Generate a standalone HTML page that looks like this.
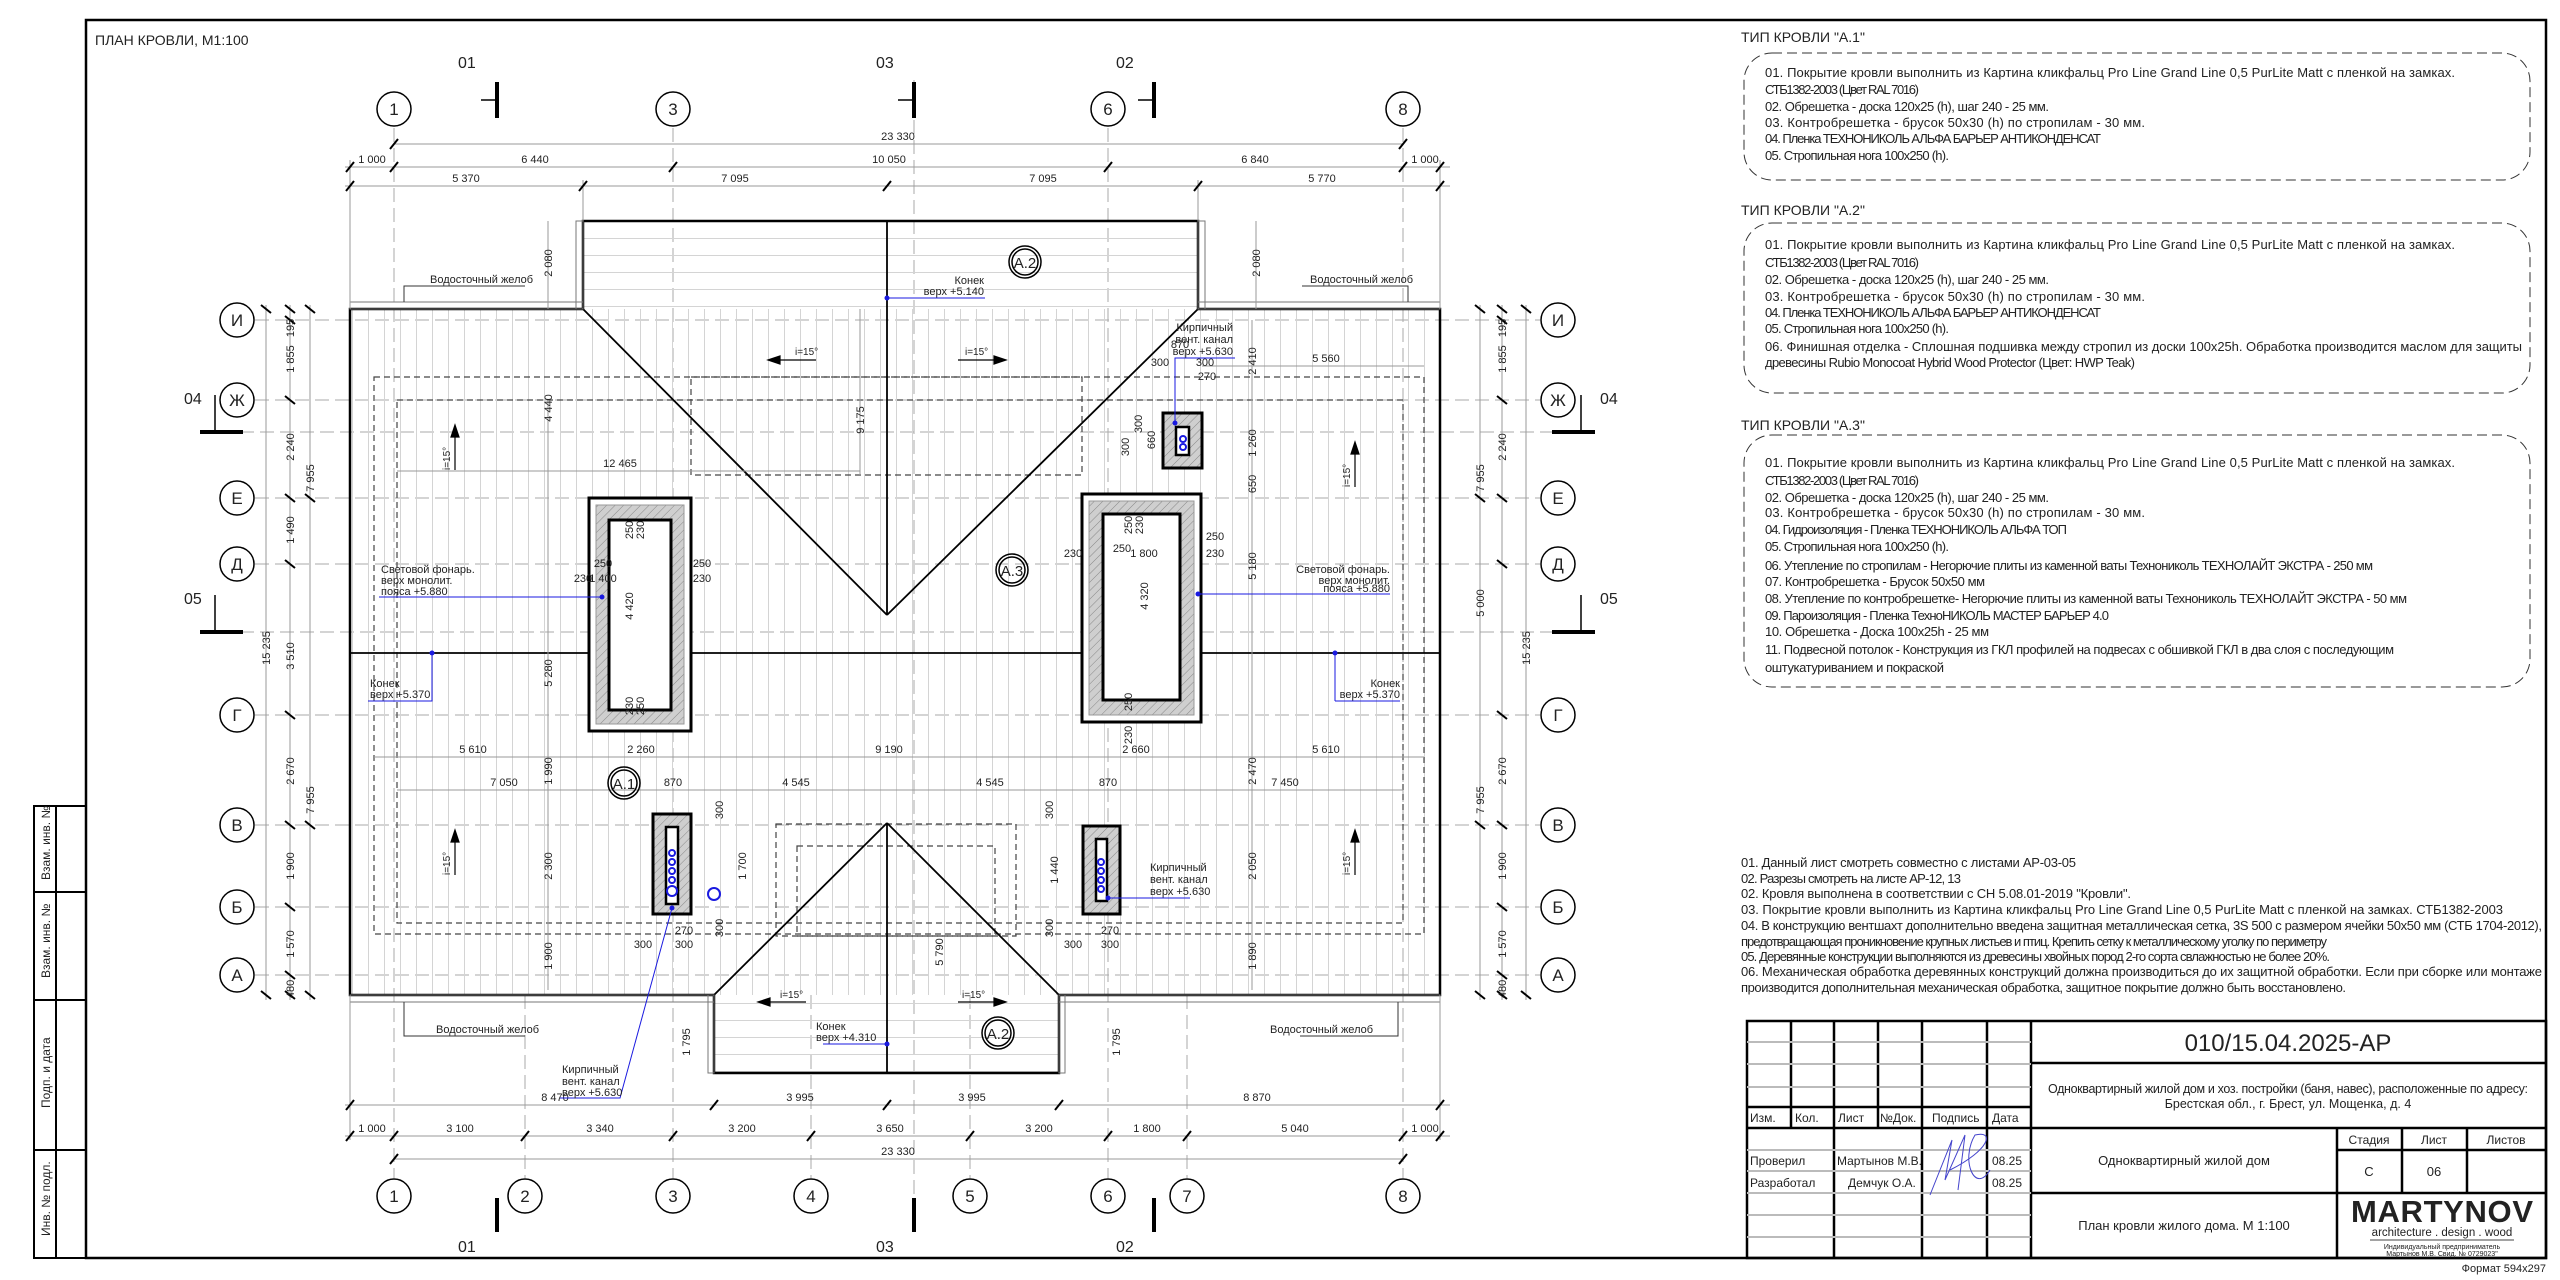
<!DOCTYPE html>
<html><head><meta charset="utf-8"><style>
html,body{margin:0;padding:0;background:#fff}
svg{display:block}
text{font-family:"Liberation Sans","DejaVu Sans",sans-serif;fill:#222}
.d{font-size:11px;fill:#333}
.t{font-size:13px}
.b{fill:#1a1ae0;font-size:11px}
</style></head><body>
<svg width="2560" height="1280" viewBox="0 0 2560 1280" xmlns="http://www.w3.org/2000/svg">
<defs>
<pattern id="vs" width="16" height="10" patternUnits="userSpaceOnUse"><line x1="0.5" y1="0" x2="0.5" y2="10" stroke="#d4d4d4" stroke-width="1"/></pattern>
<pattern id="hs" width="10" height="17" patternUnits="userSpaceOnUse"><line x1="0" y1="0.5" x2="10" y2="0.5" stroke="#d4d4d4" stroke-width="1"/></pattern>
<pattern id="hat" width="6" height="6" patternUnits="userSpaceOnUse" patternTransform="rotate(45)"><rect width="6" height="6" fill="#cfcfcf"/><line x1="0" y1="0" x2="0" y2="6" stroke="#888" stroke-width="1"/></pattern>
</defs>

<!-- frame -->
<rect x="86" y="20" width="2460" height="1238" fill="none" stroke="#000" stroke-width="2.5"/>
<g stroke="#000" stroke-width="2" fill="none">
<rect x="34" y="806" width="52" height="452"/>
<line x1="56" y1="806" x2="56" y2="1258"/>
<line x1="34" y1="892" x2="86" y2="892"/>
<line x1="34" y1="1000" x2="86" y2="1000"/>
<line x1="34" y1="1150" x2="86" y2="1150"/>
</g>
<g font-size="12">
<text transform="translate(50 880) rotate(-90)">Взам. инв. №</text>
<text transform="translate(50 978) rotate(-90)">Взам. инв. №</text>
<text transform="translate(50 1108) rotate(-90)">Подп. и дата</text>
<text transform="translate(50 1236) rotate(-90)">Инв. № подл.</text>
</g>
<text x="95" y="45" font-size="14">ПЛАН КРОВЛИ, М1:100</text>

<!-- axis lines -->
<g stroke="#aaa" stroke-width="1" stroke-dasharray="14 6">
<line x1="394" y1="128" x2="394" y2="1178"/><line x1="525" y1="995" x2="525" y2="1178"/>
<line x1="673" y1="128" x2="673" y2="1178"/><line x1="811" y1="995" x2="811" y2="1178"/>
<line x1="970" y1="995" x2="970" y2="1178"/><line x1="1108" y1="128" x2="1108" y2="1178"/>
<line x1="1187" y1="995" x2="1187" y2="1178"/><line x1="1403" y1="128" x2="1403" y2="1178"/>
<line x1="255" y1="320" x2="1540" y2="320"/><line x1="255" y1="400" x2="1540" y2="400"/>
<line x1="255" y1="498" x2="1540" y2="498"/><line x1="255" y1="564" x2="1540" y2="564"/>
<line x1="255" y1="715" x2="1540" y2="715"/><line x1="255" y1="825" x2="1540" y2="825"/>
<line x1="255" y1="907" x2="1540" y2="907"/><line x1="255" y1="975" x2="1540" y2="975"/>
<line x1="914" y1="80" x2="914" y2="1230"/>
<line x1="200" y1="432" x2="1600" y2="432"/><line x1="200" y1="632" x2="1600" y2="632"/>
</g>

<!-- roof fills -->
<rect x="350" y="309" width="1090" height="686" fill="url(#vs)"/>
<rect x="583" y="221" width="615" height="88" fill="url(#hs)"/>
<rect x="714" y="995" width="345" height="78" fill="url(#hs)"/>

<!-- dashed wall outlines -->
<g stroke="#444" stroke-width="1.2" fill="none" stroke-dasharray="6 4">
<rect x="374" y="377" width="1050" height="557"/>
<rect x="397" y="400" width="1006" height="523"/>
<rect x="691" y="377" width="391" height="98"/>
<rect x="775" y="824" width="136" height="0"/>
<rect x="776" y="824" width="240" height="112"/>
<rect x="797" y="846" width="198" height="90"/>
</g>

<!-- roof outline -->
<g stroke="#000" stroke-width="2.5" fill="none">
<path d="M350 309 H583 V221 H1198 V309 H1440 V995 H1059 V1073 H714 V995 H350 Z"/>
</g>
<g stroke="#000" stroke-width="1.8" fill="none">
<line x1="583" y1="309" x2="887" y2="615"/><line x1="1198" y1="309" x2="887" y2="615"/>
<line x1="887" y1="221" x2="887" y2="615"/>
<line x1="350" y1="653" x2="1440" y2="653"/>
<line x1="714" y1="995" x2="887" y2="823"/><line x1="1059" y1="995" x2="887" y2="823"/>
<line x1="887" y1="823" x2="887" y2="1073"/>
</g>
<!-- gutters -->
<g stroke="#777" stroke-width="1" fill="none">
<rect x="350" y="302" width="233" height="7"/><rect x="1198" y="302" width="242" height="7"/>
<rect x="350" y="995" width="364" height="7"/><rect x="1059" y="995" width="381" height="7"/>
<rect x="576" y="221" width="7" height="88"/><rect x="1198" y="221" width="7" height="88"/>
<rect x="708" y="995" width="6" height="78"/><rect x="1059" y="995" width="6" height="78"/>
</g>

<!-- skylights -->
<g>
<rect x="589" y="498" width="102" height="233" fill="#fff" stroke="#000" stroke-width="3"/>
<rect x="596" y="505" width="88" height="219" fill="url(#hat)" stroke="#999" stroke-width="1"/>
<rect x="609" y="520" width="62" height="190" fill="#fff" stroke="#000" stroke-width="3"/>
<rect x="1082" y="494" width="119" height="228" fill="#fff" stroke="#000" stroke-width="3"/>
<rect x="1089" y="501" width="105" height="214" fill="url(#hat)" stroke="#999" stroke-width="1"/>
<rect x="1103" y="514" width="77" height="186" fill="#fff" stroke="#000" stroke-width="3"/>
<!-- chimneys -->
<rect x="1163" y="413" width="39" height="55" fill="url(#hat)" stroke="#000" stroke-width="3"/>
<rect x="1176" y="427" width="13" height="28" fill="#fff" stroke="#000" stroke-width="2.5"/>
<rect x="653" y="814" width="38" height="100" fill="url(#hat)" stroke="#000" stroke-width="3"/>
<rect x="666" y="827" width="12" height="77" fill="#fff" stroke="#000" stroke-width="2.5"/>
<rect x="1083" y="826" width="37" height="88" fill="url(#hat)" stroke="#000" stroke-width="3"/>
<rect x="1096" y="839" width="11" height="62" fill="#fff" stroke="#000" stroke-width="2.5"/>
</g>
<g fill="none" stroke="#1a1ae0" stroke-width="2">
<circle cx="1183" cy="439" r="3"/><circle cx="1183" cy="447" r="3"/>
<circle cx="672" cy="853" r="3"/><circle cx="672" cy="862" r="3"/><circle cx="672" cy="871" r="3"/><circle cx="672" cy="880" r="3"/><circle cx="672" cy="891" r="5"/>
<circle cx="714" cy="894" r="6"/>
<circle cx="1101" cy="862" r="3"/><circle cx="1101" cy="871" r="3"/><circle cx="1101" cy="880" r="3"/><circle cx="1101" cy="889" r="3"/>
</g>

<!-- axis bubbles -->
<g fill="#fff" stroke="#000" stroke-width="1.5">
<circle cx="394" cy="109" r="17"/><circle cx="673" cy="109" r="17"/><circle cx="1108" cy="109" r="17"/><circle cx="1403" cy="109" r="17"/>
<circle cx="394" cy="1196" r="17"/><circle cx="525" cy="1196" r="17"/><circle cx="673" cy="1196" r="17"/><circle cx="811" cy="1196" r="17"/>
<circle cx="970" cy="1196" r="17"/><circle cx="1108" cy="1196" r="17"/><circle cx="1187" cy="1196" r="17"/><circle cx="1403" cy="1196" r="17"/>
<circle cx="237" cy="320" r="17"/><circle cx="237" cy="400" r="17"/><circle cx="237" cy="498" r="17"/><circle cx="237" cy="564" r="17"/>
<circle cx="237" cy="715" r="17"/><circle cx="237" cy="825" r="17"/><circle cx="237" cy="907" r="17"/><circle cx="237" cy="975" r="17"/>
<circle cx="1558" cy="320" r="17"/><circle cx="1558" cy="400" r="17"/><circle cx="1558" cy="498" r="17"/><circle cx="1558" cy="564" r="17"/>
<circle cx="1558" cy="715" r="17"/><circle cx="1558" cy="825" r="17"/><circle cx="1558" cy="907" r="17"/><circle cx="1558" cy="975" r="17"/>
</g>
<g font-size="17" text-anchor="middle">
<text x="394" y="115">1</text><text x="673" y="115">3</text><text x="1108" y="115">6</text><text x="1403" y="115">8</text>
<text x="394" y="1202">1</text><text x="525" y="1202">2</text><text x="673" y="1202">3</text><text x="811" y="1202">4</text>
<text x="970" y="1202">5</text><text x="1108" y="1202">6</text><text x="1187" y="1202">7</text><text x="1403" y="1202">8</text>
<text x="237" y="326">И</text><text x="237" y="406">Ж</text><text x="237" y="504">Е</text><text x="237" y="570">Д</text>
<text x="237" y="721">Г</text><text x="237" y="831">В</text><text x="237" y="913">Б</text><text x="237" y="981">А</text>
<text x="1558" y="326">И</text><text x="1558" y="406">Ж</text><text x="1558" y="504">Е</text><text x="1558" y="570">Д</text>
<text x="1558" y="721">Г</text><text x="1558" y="831">В</text><text x="1558" y="913">Б</text><text x="1558" y="981">А</text>
</g>

<!-- section marks -->
<g stroke="#000" stroke-width="4">
<line x1="497" y1="82" x2="497" y2="118"/><line x1="914" y1="82" x2="914" y2="118"/><line x1="1154" y1="82" x2="1154" y2="118"/>
<line x1="497" y1="1198" x2="497" y2="1232"/><line x1="914" y1="1198" x2="914" y2="1232"/><line x1="1154" y1="1198" x2="1154" y2="1232"/>
<line x1="200" y1="432" x2="243" y2="432"/><line x1="1552" y1="432" x2="1595" y2="432"/>
<line x1="200" y1="632" x2="243" y2="632"/><line x1="1552" y1="632" x2="1595" y2="632"/>
</g>
<g stroke="#000" stroke-width="1.5">
<line x1="481" y1="100" x2="497" y2="100"/><line x1="898" y1="100" x2="914" y2="100"/><line x1="1138" y1="100" x2="1154" y2="100"/>
<line x1="215" y1="395" x2="215" y2="430"/><line x1="1581" y1="395" x2="1581" y2="430"/>
<line x1="215" y1="595" x2="215" y2="630"/><line x1="1581" y1="595" x2="1581" y2="630"/>
</g>
<g font-size="16">
<text x="458" y="68">01</text><text x="876" y="68">03</text><text x="1116" y="68">02</text>
<text x="458" y="1252">01</text><text x="876" y="1252">03</text><text x="1116" y="1252">02</text>
<text x="184" y="404">04</text><text x="1600" y="404">04</text>
<text x="184" y="604">05</text><text x="1600" y="604">05</text>
</g>

<!-- dimension lines -->
<g stroke="#999" stroke-width="1">
<line x1="394" y1="144" x2="1403" y2="144"/><line x1="345" y1="167" x2="1450" y2="167"/><line x1="345" y1="186" x2="1450" y2="186"/>
<line x1="345" y1="1105" x2="1450" y2="1105"/><line x1="345" y1="1136" x2="1450" y2="1136"/><line x1="394" y1="1159" x2="1403" y2="1159"/>
<line x1="290" y1="305" x2="290" y2="1000"/><line x1="310" y1="305" x2="310" y2="1000"/><line x1="266" y1="305" x2="266" y2="1000"/>
<line x1="1502" y1="305" x2="1502" y2="1000"/><line x1="1480" y1="305" x2="1480" y2="1000"/><line x1="1526" y1="305" x2="1526" y2="1000"/>
<line x1="350" y1="160" x2="350" y2="309"/><line x1="1440" y1="160" x2="1440" y2="309"/>
<line x1="583" y1="180" x2="583" y2="221"/><line x1="1198" y1="180" x2="1198" y2="221"/>
<line x1="350" y1="995" x2="350" y2="1140"/><line x1="1440" y1="995" x2="1440" y2="1140"/>
<line x1="548" y1="221" x2="548" y2="309"/><line x1="1256" y1="221" x2="1256" y2="309"/>
<line x1="374" y1="757" x2="1424" y2="757"/><line x1="397" y1="790" x2="1403" y2="790"/>
<line x1="548" y1="400" x2="548" y2="990"/><line x1="1252" y1="320" x2="1252" y2="990"/>
<line x1="860" y1="309" x2="860" y2="475"/><line x1="397" y1="471" x2="860" y2="471"/>
<line x1="1202" y1="366" x2="1424" y2="366"/>
</g>
<g stroke="#000" stroke-width="2">
<path d="M390 149l8-10M1399 149l8-10M346 172l8-10M390 172l8-10M669 172l8-10M1104 172l8-10M1399 172l8-10M1436 172l8-10M346 191l8-10M579 191l8-10M883 191l8-10M1194 191l8-10M1436 191l8-10"/>
<path d="M346 1110l8-10M710 1110l8-10M883 1110l8-10M1055 1110l8-10M1436 1110l8-10M346 1141l8-10M390 1141l8-10M521 1141l8-10M669 1141l8-10M807 1141l8-10M966 1141l8-10M1104 1141l8-10M1183 1141l8-10M1399 1141l8-10M1436 1141l8-10M390 1164l8-10M1399 1164l8-10"/>
<path d="M285 305l10 8M285 316l10 8M285 396l10 8M285 494l10 8M285 560l10 8M285 711l10 8M285 821l10 8M285 903l10 8M285 971l10 8M285 991l10 8M305 305l10 8M305 494l10 8M305 821l10 8M305 991l10 8M261 305l10 8M261 991l10 8"/>
<path d="M1497 305l10 8M1497 316l10 8M1497 396l10 8M1497 494l10 8M1497 560l10 8M1497 711l10 8M1497 821l10 8M1497 903l10 8M1497 971l10 8M1497 991l10 8M1475 305l10 8M1475 494l10 8M1475 821l10 8M1475 991l10 8M1521 305l10 8M1521 991l10 8"/>
</g>
<g class="d" text-anchor="middle">
<text x="898" y="140">23 330</text>
<text x="372" y="163">1 000</text><text x="535" y="163">6 440</text><text x="889" y="163">10 050</text><text x="1255" y="163">6 840</text><text x="1425" y="163">1 000</text>
<text x="466" y="182">5 370</text><text x="735" y="182">7 095</text><text x="1043" y="182">7 095</text><text x="1322" y="182">5 770</text>
<text x="555" y="1101">8 470</text><text x="800" y="1101">3 995</text><text x="972" y="1101">3 995</text><text x="1257" y="1101">8 870</text>
<text x="372" y="1132">1 000</text><text x="460" y="1132">3 100</text><text x="600" y="1132">3 340</text><text x="742" y="1132">3 200</text><text x="890" y="1132">3 650</text><text x="1039" y="1132">3 200</text><text x="1147" y="1132">1 800</text><text x="1295" y="1132">5 040</text><text x="1425" y="1132">1 000</text>
<text x="898" y="1155">23 330</text>
<text x="620" y="467">12 465</text><text x="1326" y="362">5 560</text>
<text x="473" y="753">5 610</text><text x="641" y="753">2 260</text><text x="889" y="753">9 190</text><text x="1136" y="753">2 660</text><text x="1326" y="753">5 610</text>
<text x="504" y="786">7 050</text><text x="673" y="786">870</text><text x="796" y="786">4 545</text><text x="990" y="786">4 545</text><text x="1108" y="786">870</text><text x="1285" y="786">7 450</text>
<text x="1180" y="348">870</text><text x="1160" y="366">300</text><text x="1205" y="366">300</text><text x="1207" y="380">270</text>
<text x="603" y="567">250</text><text x="603" y="582">1 400</text><text x="583" y="582">230</text><text x="702" y="567">250</text><text x="702" y="582">230</text>
<text x="1122" y="552">250</text><text x="1144" y="557">1 800</text><text x="1073" y="557">230</text><text x="1215" y="540">250</text><text x="1215" y="557">230</text>
<text x="643" y="948">300</text><text x="684" y="948">300</text><text x="684" y="934">270</text>
<text x="1073" y="948">300</text><text x="1110" y="948">300</text><text x="1110" y="934">270</text>
</g>
<g class="d" text-anchor="middle">
<text transform="translate(294 328) rotate(-90)">195</text><text transform="translate(294 359) rotate(-90)">1 855</text>
<text transform="translate(294 447) rotate(-90)">2 240</text><text transform="translate(294 530) rotate(-90)">1 490</text>
<text transform="translate(294 656) rotate(-90)">3 510</text><text transform="translate(294 771) rotate(-90)">2 670</text>
<text transform="translate(294 866) rotate(-90)">1 900</text><text transform="translate(294 944) rotate(-90)">1 570</text>
<text transform="translate(294 989) rotate(-90)">480</text>
<text transform="translate(314 478) rotate(-90)">7 955</text><text transform="translate(314 800) rotate(-90)">7 955</text>
<text transform="translate(270 648) rotate(-90)">15 235</text>
<text transform="translate(1506 328) rotate(-90)">195</text><text transform="translate(1506 359) rotate(-90)">1 855</text>
<text transform="translate(1506 447) rotate(-90)">2 240</text><text transform="translate(1484 603) rotate(-90)">5 000</text>
<text transform="translate(1506 771) rotate(-90)">2 670</text>
<text transform="translate(1506 866) rotate(-90)">1 900</text><text transform="translate(1506 944) rotate(-90)">1 570</text>
<text transform="translate(1506 989) rotate(-90)">480</text>
<text transform="translate(1484 478) rotate(-90)">7 955</text><text transform="translate(1484 800) rotate(-90)">7 955</text>
<text transform="translate(1530 648) rotate(-90)">15 235</text>
<text transform="translate(552 263) rotate(-90)">2 080</text><text transform="translate(1260 263) rotate(-90)">2 080</text>
<text transform="translate(552 408) rotate(-90)">4 440</text><text transform="translate(864 420) rotate(-90)">9 175</text>
<text transform="translate(1256 361) rotate(-90)">2 410</text><text transform="translate(1256 443) rotate(-90)">1 260</text>
<text transform="translate(1256 484) rotate(-90)">650</text><text transform="translate(1256 566) rotate(-90)">5 180</text>
<text transform="translate(552 673) rotate(-90)">5 280</text><text transform="translate(552 771) rotate(-90)">1 990</text>
<text transform="translate(552 866) rotate(-90)">2 300</text><text transform="translate(552 956) rotate(-90)">1 900</text>
<text transform="translate(1256 771) rotate(-90)">2 470</text><text transform="translate(1256 866) rotate(-90)">2 050</text>
<text transform="translate(1256 956) rotate(-90)">1 890</text>
<text transform="translate(746 866) rotate(-90)">1 700</text><text transform="translate(1058 870) rotate(-90)">1 440</text>
<text transform="translate(943 952) rotate(-90)">5 790</text>
<text transform="translate(690 1042) rotate(-90)">1 795</text><text transform="translate(1120 1042) rotate(-90)">1 795</text>
<text transform="translate(633 606) rotate(-90)">4 420</text><text transform="translate(1148 596) rotate(-90)">4 320</text>
<text transform="translate(633 530) rotate(-90)">250</text><text transform="translate(644 530) rotate(-90)">230</text>
<text transform="translate(633 706) rotate(-90)">230</text><text transform="translate(644 706) rotate(-90)">250</text>
<text transform="translate(1132 525) rotate(-90)">250</text><text transform="translate(1143 525) rotate(-90)">230</text>
<text transform="translate(1132 702) rotate(-90)">250</text><text transform="translate(1132 735) rotate(-90)">230</text>
<text transform="translate(1142 424) rotate(-90)">300</text><text transform="translate(1155 440) rotate(-90)">660</text><text transform="translate(1129 447) rotate(-90)">300</text>
<text transform="translate(723 810) rotate(-90)">300</text><text transform="translate(723 928) rotate(-90)">300</text>
<text transform="translate(1053 810) rotate(-90)">300</text><text transform="translate(1053 928) rotate(-90)">300</text>
</g>

<!-- labels: gutters -->
<g font-size="11">
<text x="430" y="283">Водосточный желоб</text><text x="1310" y="283">Водосточный желоб</text>
<text x="436" y="1033">Водосточный желоб</text><text x="1270" y="1033">Водосточный желоб</text>
</g>
<g stroke="#333" stroke-width="1" fill="none">
<path d="M404 302 V286 H525"/><path d="M1408 302 V286 H1402 M1302 286 H1403"/>
<path d="M404 1002 V1036 H525"/><path d="M1300 1036 H1398 V1002"/>
</g>

<!-- A circles -->
<g fill="none" stroke="#000" stroke-width="1.5">
<circle cx="1025" cy="262" r="16"/><circle cx="1025" cy="262" r="13"/>
<circle cx="1012" cy="570" r="16"/><circle cx="1012" cy="570" r="13"/>
<circle cx="624" cy="783" r="16"/><circle cx="624" cy="783" r="13"/>
<circle cx="998" cy="1033" r="16"/><circle cx="998" cy="1033" r="13"/>
</g>
<g font-size="15" text-anchor="middle">
<text x="1025" y="268">А.2</text><text x="1012" y="576">А.3</text><text x="624" y="789">А.1</text><text x="998" y="1039">А.2</text>
</g>

<!-- slope arrows -->
<g stroke="#000" stroke-width="1.2" fill="#000">
<line x1="778" y1="360" x2="816" y2="360"/><path d="M768 360l12-4v8z"/>
<line x1="958" y1="360" x2="996" y2="360"/><path d="M1006 360l-12-4v8z"/>
<line x1="455" y1="435" x2="455" y2="470"/><path d="M455 425l-4 12h8z"/>
<line x1="1355" y1="452" x2="1355" y2="487"/><path d="M1355 442l-4 12h8z"/>
<line x1="455" y1="840" x2="455" y2="875"/><path d="M455 830l-4 12h8z"/>
<line x1="1355" y1="840" x2="1355" y2="875"/><path d="M1355 830l-4 12h8z"/>
<line x1="768" y1="1002" x2="806" y2="1002"/><path d="M758 1002l12-4v8z"/>
<line x1="958" y1="1002" x2="996" y2="1002"/><path d="M1006 1002l-12-4v8z"/>
</g>
<g font-size="10">
<text x="795" y="355">i=15°</text><text x="965" y="355">i=15°</text>
<text x="780" y="998">i=15°</text><text x="962" y="998">i=15°</text>
<text transform="translate(450 470) rotate(-90)">i=15°</text><text transform="translate(1350 487) rotate(-90)">i=15°</text>
<text transform="translate(450 875) rotate(-90)">i=15°</text><text transform="translate(1350 875) rotate(-90)">i=15°</text>
</g>

<!-- blue labels -->
<g stroke="#1a1ae0" stroke-width="1" fill="none">
<path d="M887 298 H985"/><path d="M1175 423 V358 H1235"/>
<path d="M379 597 H602"/><path d="M1198 594 H1390"/>
<path d="M368 701 H432 V653"/><path d="M1335 701 H1400 M1335 701 V653"/>
<path d="M887 1044 H823"/><path d="M672 908 L620 1098 H560"/><path d="M1108 898 H1190"/>
</g>
<g fill="#1a1ae0">
<circle cx="887" cy="298" r="2.5"/><circle cx="1175" cy="423" r="2.5"/><circle cx="602" cy="597" r="2.5"/><circle cx="1198" cy="594" r="2.5"/>
<circle cx="432" cy="653" r="2.5"/><circle cx="1335" cy="653" r="2.5"/><circle cx="887" cy="1044" r="2.5"/><circle cx="672" cy="908" r="2.5"/><circle cx="1108" cy="898" r="2.5"/>
</g>
<g class="b">
<text x="984" y="284" text-anchor="end">Конек</text><text x="984" y="295" text-anchor="end">верх +5.140</text>
<text x="1233" y="331" text-anchor="end">Кирпичный</text><text x="1233" y="343" text-anchor="end">вент. канал</text><text x="1233" y="355" text-anchor="end">верх +5.630</text>
<text x="381" y="573">Световой фонарь.</text><text x="381" y="584">верх монолит.</text><text x="381" y="595">пояса +5.880</text>
<text x="1390" y="573" text-anchor="end">Световой фонарь.</text><text x="1390" y="584" text-anchor="end">верх монолит.</text><text x="1390" y="592" text-anchor="end">пояса +5.880</text>
<text x="370" y="687">Конек</text><text x="370" y="698">верх +5.370</text>
<text x="1400" y="687" text-anchor="end">Конек</text><text x="1400" y="698" text-anchor="end">верх +5.370</text>
<text x="816" y="1030">Конек</text><text x="816" y="1041">верх +4.310</text>
<text x="562" y="1073">Кирпичный</text><text x="562" y="1085">вент. канал</text><text x="562" y="1096">верх +5.630</text>
<text x="1150" y="871">Кирпичный</text><text x="1150" y="883">вент. канал</text><text x="1150" y="895">верх +5.630</text>
</g>

<!-- right texts -->
<g class="t">
<text x="1741" y="42" font-size="14">ТИП КРОВЛИ "А.1"</text>
<text x="1765" y="77" textLength="690">01. Покрытие кровли выполнить из Картина кликфальц Pro Line Grand Line 0,5 PurLite Matt с пленкой на замках.</text>
<text x="1765" y="94" textLength="154">СТБ1382-2003 (Цвет RAL 7016)</text>
<text x="1765" y="111" textLength="284">02. Обрешетка - доска 120х25 (h), шаг 240 - 25 мм.</text>
<text x="1765" y="127" textLength="380">03. Контробрешетка - брусок 50х30 (h) по стропилам - 30 мм.</text>
<text x="1765" y="143" textLength="336">04. Пленка ТЕХНОНИКОЛЬ АЛЬФА БАРЬЕР АНТИКОНДЕНСАТ</text>
<text x="1765" y="160" textLength="184">05. Стропильная нога 100х250 (h).</text>

<text x="1741" y="215" font-size="14">ТИП КРОВЛИ "А.2"</text>
<text x="1765" y="249" textLength="690">01. Покрытие кровли выполнить из Картина кликфальц Pro Line Grand Line 0,5 PurLite Matt с пленкой на замках.</text>
<text x="1765" y="267" textLength="154">СТБ1382-2003 (Цвет RAL 7016)</text>
<text x="1765" y="284" textLength="284">02. Обрешетка - доска 120х25 (h), шаг 240 - 25 мм.</text>
<text x="1765" y="301" textLength="380">03. Контробрешетка - брусок 50х30 (h) по стропилам - 30 мм.</text>
<text x="1765" y="317" textLength="336">04. Пленка ТЕХНОНИКОЛЬ АЛЬФА БАРЬЕР АНТИКОНДЕНСАТ</text>
<text x="1765" y="333" textLength="184">05. Стропильная нога 100х250 (h).</text>
<text x="1765" y="351" textLength="757">06. Финишная отделка - Сплошная подшивка между стропил из доски 100х25h. Обработка производится маслом для защиты</text>
<text x="1765" y="367" textLength="370">древесины Rubio Monocoat Hybrid Wood Protector (Цвет: HWP Teak)</text>

<text x="1741" y="430" font-size="14">ТИП КРОВЛИ "А.3"</text>
<text x="1765" y="467" textLength="690">01. Покрытие кровли выполнить из Картина кликфальц Pro Line Grand Line 0,5 PurLite Matt с пленкой на замках.</text>
<text x="1765" y="485" textLength="154">СТБ1382-2003 (Цвет RAL 7016)</text>
<text x="1765" y="502" textLength="284">02. Обрешетка - доска 120х25 (h), шаг 240 - 25 мм.</text>
<text x="1765" y="517" textLength="380">03. Контробрешетка - брусок 50х30 (h) по стропилам - 30 мм.</text>
<text x="1765" y="534" textLength="302">04. Гидроизоляция - Пленка ТЕХНОНИКОЛЬ АЛЬФА ТОП</text>
<text x="1765" y="551" textLength="184">05. Стропильная нога 100х250 (h).</text>
<text x="1765" y="570" textLength="608">06. Утепление по стропилам - Негорючие плиты из каменной ваты Технониколь ТЕХНОЛАЙТ ЭКСТРА - 250 мм</text>
<text x="1765" y="586" textLength="220">07. Контробрешетка - Брусок 50х50 мм</text>
<text x="1765" y="603" textLength="642">08. Утепление по контробрешетке- Негорючие плиты из каменной ваты Технониколь ТЕХНОЛАЙТ ЭКСТРА - 50 мм</text>
<text x="1765" y="620" textLength="344">09. Пароизоляция - Пленка ТехноНИКОЛЬ МАСТЕР БАРЬЕР 4.0</text>
<text x="1765" y="636" textLength="224">10. Обрешетка - Доска 100х25h - 25 мм</text>
<text x="1765" y="654" textLength="629">11. Подвесной потолок - Конструкция из ГКЛ профилей на подвесах с обшивкой ГКЛ в два слоя с последующим</text>
<text x="1765" y="672" textLength="179">оштукатуриванием и покраской</text>

<text x="1741" y="867" textLength="335">01. Данный лист смотреть совместно с листами АР-03-05</text>
<text x="1741" y="883" textLength="220">02. Разрезы смотреть на листе АР-12, 13</text>
<text x="1741" y="898" textLength="390">02. Кровля выполнена в соответствии с СН 5.08.01-2019 "Кровли".</text>
<text x="1741" y="914" textLength="762">03. Покрытие кровли выполнить из Картина кликфальц Pro Line Grand Line 0,5 PurLite Matt с пленкой на замках. СТБ1382-2003</text>
<text x="1741" y="930" textLength="801">04. В конструкцию вентшахт дополнительно введена защитная металлическая сетка, 3S 500 с размером ячейки 50х50 мм (СТБ 1704-2012),</text>
<text x="1741" y="946" textLength="586">предотвращающая проникновение крупных листьев и птиц. Крепить сетку к металлическому уголку по периметру</text>
<text x="1741" y="961" textLength="589">05. Деревянные конструкции выполняются из древесины хвойных пород 2-го сорта свлажностью не более 20%.</text>
<text x="1741" y="976" textLength="801">06. Механическая обработка деревянных конструкций должна производиться до их защитной обработки. Если при сборке или монтаже</text>
<text x="1741" y="992" textLength="605">производится дополнительная механическая обработка, защитное покрытие должно быть восстановлено.</text>
</g>
<g fill="none" stroke="#333" stroke-width="1" stroke-dasharray="10 5">
<rect x="1744" y="53" width="786" height="127" rx="28"/>
<rect x="1744" y="223" width="786" height="170" rx="28"/>
<rect x="1744" y="435" width="786" height="252" rx="28"/>
</g>

<!-- title block -->
<g stroke="#000" stroke-width="2.5" fill="none">
<rect x="1747" y="1021" width="799" height="237"/>
<line x1="1747" y1="1107" x2="2031" y2="1107"/><line x1="1747" y1="1128" x2="2546" y2="1128"/>
<line x1="2031" y1="1063" x2="2546" y2="1063"/><line x1="2031" y1="1193" x2="2546" y2="1193"/>
<line x1="2337" y1="1150" x2="2546" y2="1150"/>
<line x1="1791" y1="1021" x2="1791" y2="1128"/><line x1="1834" y1="1021" x2="1834" y2="1258"/>
<line x1="1878" y1="1021" x2="1878" y2="1128"/><line x1="1922" y1="1021" x2="1922" y2="1258"/>
<line x1="1987" y1="1021" x2="1987" y2="1258"/><line x1="2031" y1="1021" x2="2031" y2="1258"/>
<line x1="2337" y1="1128" x2="2337" y2="1258"/><line x1="2402" y1="1128" x2="2402" y2="1193"/><line x1="2467" y1="1128" x2="2467" y2="1193"/>
</g>
<g stroke="#bbb" stroke-width="2">
<line x1="1747" y1="1042" x2="2031" y2="1042"/><line x1="1747" y1="1064" x2="2031" y2="1064"/><line x1="1747" y1="1087" x2="2031" y2="1087"/>
<line x1="1747" y1="1150" x2="2031" y2="1150"/><line x1="1747" y1="1171" x2="2031" y2="1171"/><line x1="1747" y1="1193" x2="2031" y2="1193"/>
<line x1="1747" y1="1215" x2="2031" y2="1215"/><line x1="1747" y1="1237" x2="2031" y2="1237"/>
</g>
<g font-size="12">
<text x="1750" y="1122">Изм.</text><text x="1795" y="1122">Кол.</text><text x="1838" y="1122">Лист</text><text x="1880" y="1122">№Док.</text><text x="1932" y="1122">Подпись</text><text x="1992" y="1122">Дата</text>
<text x="1750" y="1165">Проверил</text><text x="1750" y="1187">Разработал</text>
<text x="1837" y="1165">Мартынов М.В.</text><text x="1848" y="1187">Демчук О.А.</text>
<text x="1992" y="1165">08.25</text><text x="1992" y="1187">08.25</text>
</g>
<path d="M1930 1195 L1952 1140 L1945 1180 L1965 1135 L1958 1190 M1950 1170 C1990 1150 1995 1130 1975 1135 C1960 1160 1975 1195 1990 1170" stroke="#4444cc" stroke-width="1" fill="none"/>
<g text-anchor="middle">
<text x="2288" y="1051" font-size="24">010/15.04.2025-АР</text>
<text x="2288" y="1093" font-size="12.5" textLength="480">Одноквартирный жилой дом и хоз. постройки (баня, навес), расположенные по адресу:</text>
<text x="2288" y="1108" font-size="12.5">Брестская обл., г. Брест, ул. Мощенка, д. 4</text>
<text x="2184" y="1165" font-size="13">Одноквартирный жилой дом</text>
<text x="2184" y="1230" font-size="13">План кровли жилого дома. М 1:100</text>
<text x="2369" y="1144" font-size="12">Стадия</text><text x="2434" y="1144" font-size="12">Лист</text><text x="2506" y="1144" font-size="12">Листов</text>
<text x="2369" y="1176" font-size="13">С</text><text x="2434" y="1176" font-size="13">06</text>
<text x="2442" y="1222" font-size="31" font-weight="bold" fill="#000" textLength="182">MARTYNOV</text>
<text x="2442" y="1236" font-size="11.5" fill="#444">architecture . design . wood</text>
<text x="2442" y="1249" font-size="7" fill="#444">Индивидуальный предприниматель</text>
<text x="2442" y="1256" font-size="7" fill="#444">Мартынов М.В. Свид. № 0729023"</text>
</g>
<line x1="2370" y1="1240" x2="2514" y2="1240" stroke="#444" stroke-width="1"/>
<text x="2546" y="1272" font-size="11" text-anchor="end">Формат 594х297</text>
</svg>
</body></html>
